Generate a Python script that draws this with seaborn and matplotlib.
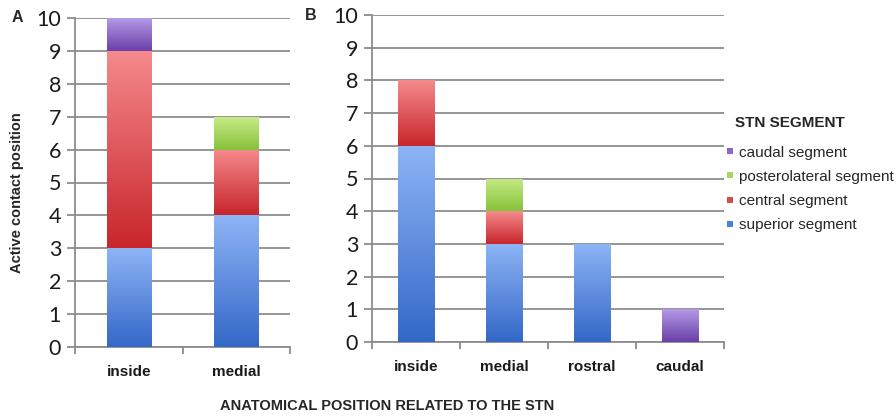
import numpy as np
import pandas as pd
import matplotlib
matplotlib.use("Agg")
import matplotlib.pyplot as plt
from matplotlib.colors import LinearSegmentedColormap
from matplotlib.lines import Line2D
import seaborn as sns

# Panel A: active contacts by anatomical position
cats_a = ["inside", "medial"]
superior_a = [3, 4]
central_a = [6, 2]
posterolateral_a = [0, 1]
caudal_a = [1, 0]

# Panel B
cats_b = ["inside", "medial", "rostral", "caudal"]
superior_b = [6, 3, 3, 0]
central_b = [2, 1, 0, 0]
posterolateral_b = [0, 1, 0, 0]
caudal_b = [0, 0, 0, 1]

segments = ["superior segment", "central segment", "posterolateral segment", "caudal segment"]
yticks = list(range(0, 11))

# (top colour, bottom colour) of each segment's vertical gradient
grad = {
    "superior segment": ("#8db4f5", "#3468c8"),
    "central segment": ("#f58a8c", "#c8262c"),
    "posterolateral segment": ("#c6ea86", "#86c23a"),
    "caudal segment": ("#b49ae6", "#6a3fa8"),
}
legend_col = {
    "superior segment": "#4a7fd8",
    "central segment": "#d84a4e",
    "posterolateral segment": "#a6d860",
    "caudal segment": "#8c66cc",
}

sns.set_theme(style="white")
plt.rcParams["font.family"] = ["Liberation Sans", "DejaVu Sans"]

fig = plt.figure(figsize=(8.96, 4.18), dpi=100)
ax_a = fig.add_axes([75 / 896, 1 - 347 / 418, 215 / 896, 329 / 418])
ax_b = fig.add_axes([372 / 896, 1 - 342 / 418, 352 / 896, 327 / 418])

grid_c = "#8c8c8c"


def stacked(ax, cats, series):
    bottom = np.zeros(len(cats))
    for name, vals in zip(segments, series):
        df = pd.DataFrame({"pos": cats, "n": vals})
        n_before = len(ax.patches)
        sns.barplot(data=df, x="pos", y="n", order=cats, color=grad[name][1],
                    width=0.41, bottom=bottom, ax=ax, saturation=1,
                    linewidth=0, zorder=3)
        cmap = LinearSegmentedColormap.from_list(name, [grad[name][1], grad[name][0]])
        for p in ax.patches[n_before:]:
            h = p.get_height()
            if h <= 0:
                continue
            x0, y0, w = p.get_x(), p.get_y(), p.get_width()
            g = np.linspace(0, 1, 128).reshape(-1, 1)
            im = ax.imshow(g, cmap=cmap, origin="lower", aspect="auto",
                           extent=[x0, x0 + w, y0, y0 + h], zorder=4,
                           interpolation="bicubic")
            im.set_clip_path(p)
        bottom = bottom + np.asarray(vals, dtype=float)

    ax.set_xlim(-0.5, len(cats) - 0.5)
    ax.set_ylim(0, 10)
    ax.set_yticks(yticks)
    ax.yaxis.grid(True, color=grid_c, linewidth=1.3)
    ax.set_axisbelow(True)
    for s in ["top", "right"]:
        ax.spines[s].set_visible(False)
    for s in ["left", "bottom"]:
        ax.spines[s].set_color(grid_c)
        ax.spines[s].set_linewidth(1.3)
    ax.set_xlabel("")
    ax.set_ylabel("")
    ax.tick_params(axis="y", which="major", length=6, width=1.3, color=grid_c,
                   left=True, pad=4, labelsize=15.5, labelcolor="#1a1a1a")
    for t in ax.get_yticklabels():
        t.set_family(["Lato", "DejaVu Sans"])
    ax.tick_params(axis="x", which="major", length=0, pad=13, labelsize=11,
                   labelcolor="#1a1a1a")
    for t in ax.get_xticklabels():
        t.set_fontweight("bold")
    ax.set_xticks(np.arange(-0.5, len(cats)), minor=True)
    ax.tick_params(axis="x", which="minor", length=5, width=1.3, color=grid_c,
                   bottom=True)


stacked(ax_a, cats_a, [superior_a, central_a, posterolateral_a, caudal_a])
stacked(ax_b, cats_b, [superior_b, central_b, posterolateral_b, caudal_b])

fig.text(17 / 896, 1 - 18 / 418, "A", fontsize=11.5, fontweight="bold",
         ha="center", va="center")
fig.text(311 / 896, 1 - 16 / 418, "B", fontsize=11.5, fontweight="bold",
         ha="center", va="center")
fig.text(17 / 896, 1 - 193 / 418, "Active contact position", rotation=90,
         fontsize=10.5, fontweight="bold", ha="center", va="center")
fig.text(387 / 896, 1 - 406 / 418, "ANATOMICAL POSITION RELATED TO THE STN",
         fontsize=10.5, fontweight="bold", ha="center", va="center")

# legend title placed on its own so the swatches can sit left of it
fig.text(735 / 896, 1 - 123 / 418, "STN SEGMENT", fontsize=11,
         fontweight="bold", ha="left", va="center")
handles = [Line2D([], [], marker="s", linestyle="none", markersize=4.5,
                  markerfacecolor=legend_col[s], markeredgewidth=0)
           for s in segments[::-1]]
fig.legend(handles, segments[::-1], loc="upper left",
           bbox_to_anchor=(715 / 896, 1 - 135 / 418), frameon=False,
           fontsize=11, handlelength=0.6, handletextpad=0.3,
           labelspacing=0.66, borderpad=0.2)

fig.savefig("out.png", dpi=100)
